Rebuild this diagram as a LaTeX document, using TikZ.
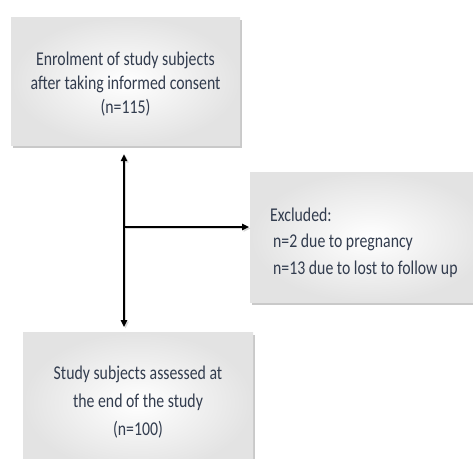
\documentclass[tikz,border=0pt]{standalone}
\usepackage{fontspec}
\setmainfont{Carlito}[FakeStretch=0.81]
\usetikzlibrary{shadows,arrows.meta}
\definecolor{txt}{HTML}{323C4E}
\tikzset{
  boxstyle/.style={rectangle, inner color=white, outer color=gray!22, draw=none,
    drop shadow={shadow xshift=2pt, shadow yshift=-3pt, fill=gray!70, opacity=0.6},
    text=txt, font=\fontsize{19.5}{24}\selectfont},
  conn/.style={line width=1.4pt, -{Triangle[length=7pt,width=6.5pt]},
    preaction={draw=gray!30, line width=1.4pt, transform canvas={shift={(1.5pt,-1.5pt)}}}},
}
\begin{document}
\begin{tikzpicture}[x=1pt,y=1pt]
\useasboundingbox[fill=white] (0,0) rectangle (473,-458);
\node[boxstyle, minimum width=229pt, minimum height=128pt] (top) at (125.5,-81) {};
\node[text=txt, font=\fontsize{19.5}{24}\selectfont, align=center, inner sep=0pt]
  (toptxt) at (125.5,-84)
  {Enrolment of study subjects\\after taking informed consent\\(n=115)};
\node[boxstyle, minimum width=240pt, minimum height=130pt, anchor=north west] (excl) at (250,-172) {};
\node[text=txt, font=\fontsize{19.5}{26.5}\selectfont, align=left, anchor=west, inner sep=0pt]
  (excltxt) at (270,-242.5)
  {Excluded:\\\hspace*{3pt}n=2 due to pregnancy\\\hspace*{3pt}n=13 due to lost to follow up};
\node[boxstyle, minimum width=230pt, minimum height=140pt, align=center, anchor=north,
  font=\fontsize{19.5}{28}\selectfont] (bot) at (138,-332)
  {Study subjects assessed at\\the end of the study\\(n=100)};
\coordinate (j) at (124,-227);
\draw[conn] (j) -- (j |- top.south) [shorten >=9pt];
\draw[conn] (j) -- (j |- bot.north) [shorten >=5pt];
\draw[conn] (j) -- (j -| excl.west) [shorten >=1pt];
\end{tikzpicture}
\end{document}
